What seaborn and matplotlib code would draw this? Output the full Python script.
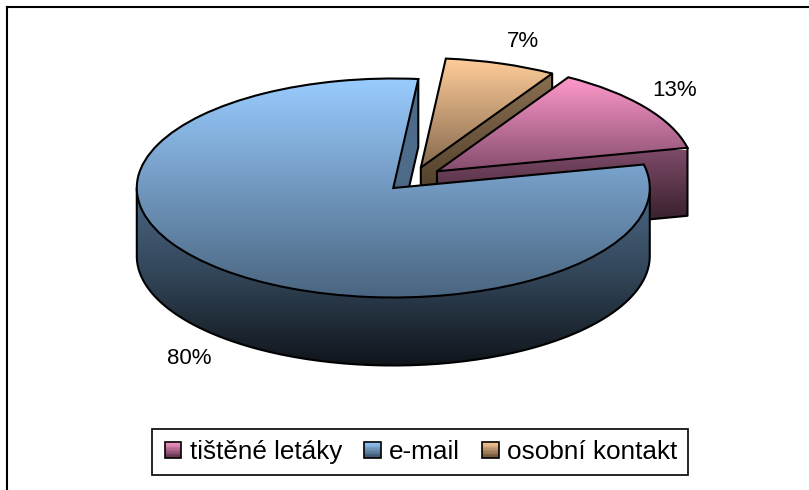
import numpy as np
import matplotlib
matplotlib.use('Agg')
import matplotlib.pyplot as plt
import seaborn as sns
from matplotlib.legend_handler import HandlerBase
from matplotlib.patches import Patch, Rectangle
from matplotlib.path import Path
from matplotlib.transforms import Affine2D

categories = ['tištěné letáky', 'e-mail', 'osobní kontakt']
values = [13, 80, 7]

top_colors = [['#ff99cc', '#844c6c'], ['#99ccff', '#4a6580'], ['#ffcc99', '#866a4e']]
wall_colors = [['#7e4a68', '#36202c'], ['#4a6a8a', '#4f6c8a', '#34485c', '#10151b'], ['#8a7052', '#54402c']]
swatch_colors = [['#ff99cc', '#5a3048'], ['#99ccff', '#3a5068'], ['#ffcc99', '#6a5038']]

sns.set_theme(style='white')
plt.rcParams['font.family'] = ['Liberation Sans', 'DejaVu Sans']

# pie centre and radii in pixels, the pie is squashed to look 3d
cx, cy = 412, 179
rx, ry = 256.5, 109.5
depth_px = 68


def to_x(px):
    return (px - cx) / rx


def to_y(py):
    return (cy - py) / ry


fig = plt.figure(figsize=(8.09, 4.9), dpi=100)
ax = fig.add_axes([7 / 809, 0, 802 / 809, 483 / 490])

wedges, _ = ax.pie(values, explode=[0.12, 0.11, 0.11], startangle=59.2, counterclock=False,
                   radius=1, wedgeprops={'linewidth': 1.5, 'edgecolor': 'black', 'facecolor': 'none'})
depth = depth_px / ry
grad = np.linspace(0, 1, 256)[:, None]
extent_x = (to_x(7), to_x(809))

# y range of each gradient in pixels
top_range = [(77, 172), (78, 297), (59, 168)]
wall_range = [(150, 222), (78, 365), (71, 190)]

# back pieces first, e-mail goes on top of the others
for n, i in enumerate([2, 0, 1]):
    w = wedges[i]
    base = 10 + n * 10
    path = w.get_path().transformed(w.get_patch_transform())
    stack = [path.transformed(Affine2D().translate(0, -k / ry)) for k in range(depth_px + 1)]
    wall_path = Path.make_compound_path(*stack)

    wall = ax.imshow(grad, cmap=sns.blend_palette(wall_colors[i], as_cmap=True), aspect='auto', zorder=base,
                     extent=(*extent_x, to_y(wall_range[i][1]), to_y(wall_range[i][0])), origin='upper')
    wall.set_clip_path(wall_path, ax.transData)

    top = ax.imshow(grad, cmap=sns.blend_palette(top_colors[i], as_cmap=True), aspect='auto', zorder=base + 2,
                    extent=(*extent_x, to_y(top_range[i][1]), to_y(top_range[i][0])), origin='upper')
    top.set_clip_path(path, ax.transData)
    w.set_zorder(base + 3)

    # cut face: corner at theta1, its vertical edge and the bottom radial line
    x0, y0 = w.center
    ang = np.deg2rad(w.theta1)
    xc, yc = x0 + np.cos(ang), y0 + np.sin(ang)
    ax.plot([xc, xc, x0, x0], [yc, yc - depth, y0 - depth, y0], color='black', lw=1.5, zorder=base + 1,
            solid_joinstyle='round')

    # only the big slice shows the front of the cylinder
    if i == 1:
        t = np.deg2rad(np.linspace(180, 360, 181))
        xs = x0 + np.cos(t)
        ys = y0 + np.sin(t) - depth
        ax.plot(np.r_[xs[0], xs, xs[-1]], np.r_[y0, ys, y0], color='black', lw=1.5, zorder=base + 1)

ax.set_aspect('auto')
ax.set_xlim(*extent_x)
ax.set_ylim(to_y(490), to_y(7))
ax.set_frame_on(True)
sns.despine(ax=ax, right=True, bottom=True)
for side in ['top', 'left']:
    ax.spines[side].set_visible(True)
    ax.spines[side].set_color('black')
    ax.spines[side].set_linewidth(1.5)

label_pos = [(675, 91), (189, 358), (523, 42)]
for v, (px, py) in zip(values, label_pos):
    ax.text(to_x(px), to_y(py), f'{v}%', fontsize=16, color='black', ha='center', va='center', zorder=50)


class GradientHandler(HandlerBase):
    def __init__(self, colors):
        super().__init__()
        self.cmap = sns.blend_palette(colors, as_cmap=True)

    def create_artists(self, legend, orig_handle, xdescent, ydescent, width, height, fontsize, trans):
        size = 12
        x = (width - size) / 2 - xdescent
        y = (height - size) / 2 - ydescent
        n = 12
        arts = []
        for k in range(n):
            arts.append(Rectangle((x, y + size * (n - k - 1) / n), size, size / n, color=self.cmap(k / (n - 1)),
                                  lw=0, transform=trans))
        arts.append(Rectangle((x, y), size, size, fc='none', ec='black', lw=1.2, transform=trans))
        return arts


handles = [Patch(label=c) for c in categories]
leg = ax.legend(handles=handles, handler_map={h: GradientHandler(c) for h, c in zip(handles, swatch_colors)},
                loc='center', bbox_to_anchor=(420 / 809, (490 - 452) / 490), bbox_transform=fig.transFigure,
                ncol=3, fontsize=18.8, frameon=True, fancybox=False, framealpha=1, edgecolor='black',
                handlelength=0.8, handletextpad=0.25, columnspacing=0.75, borderpad=0.42)
leg.get_frame().set_linewidth(1.2)
leg.set_zorder(60)
for t in leg.get_texts():
    t.set_color('black')

fig.savefig('out.png', dpi=100, facecolor='white')
